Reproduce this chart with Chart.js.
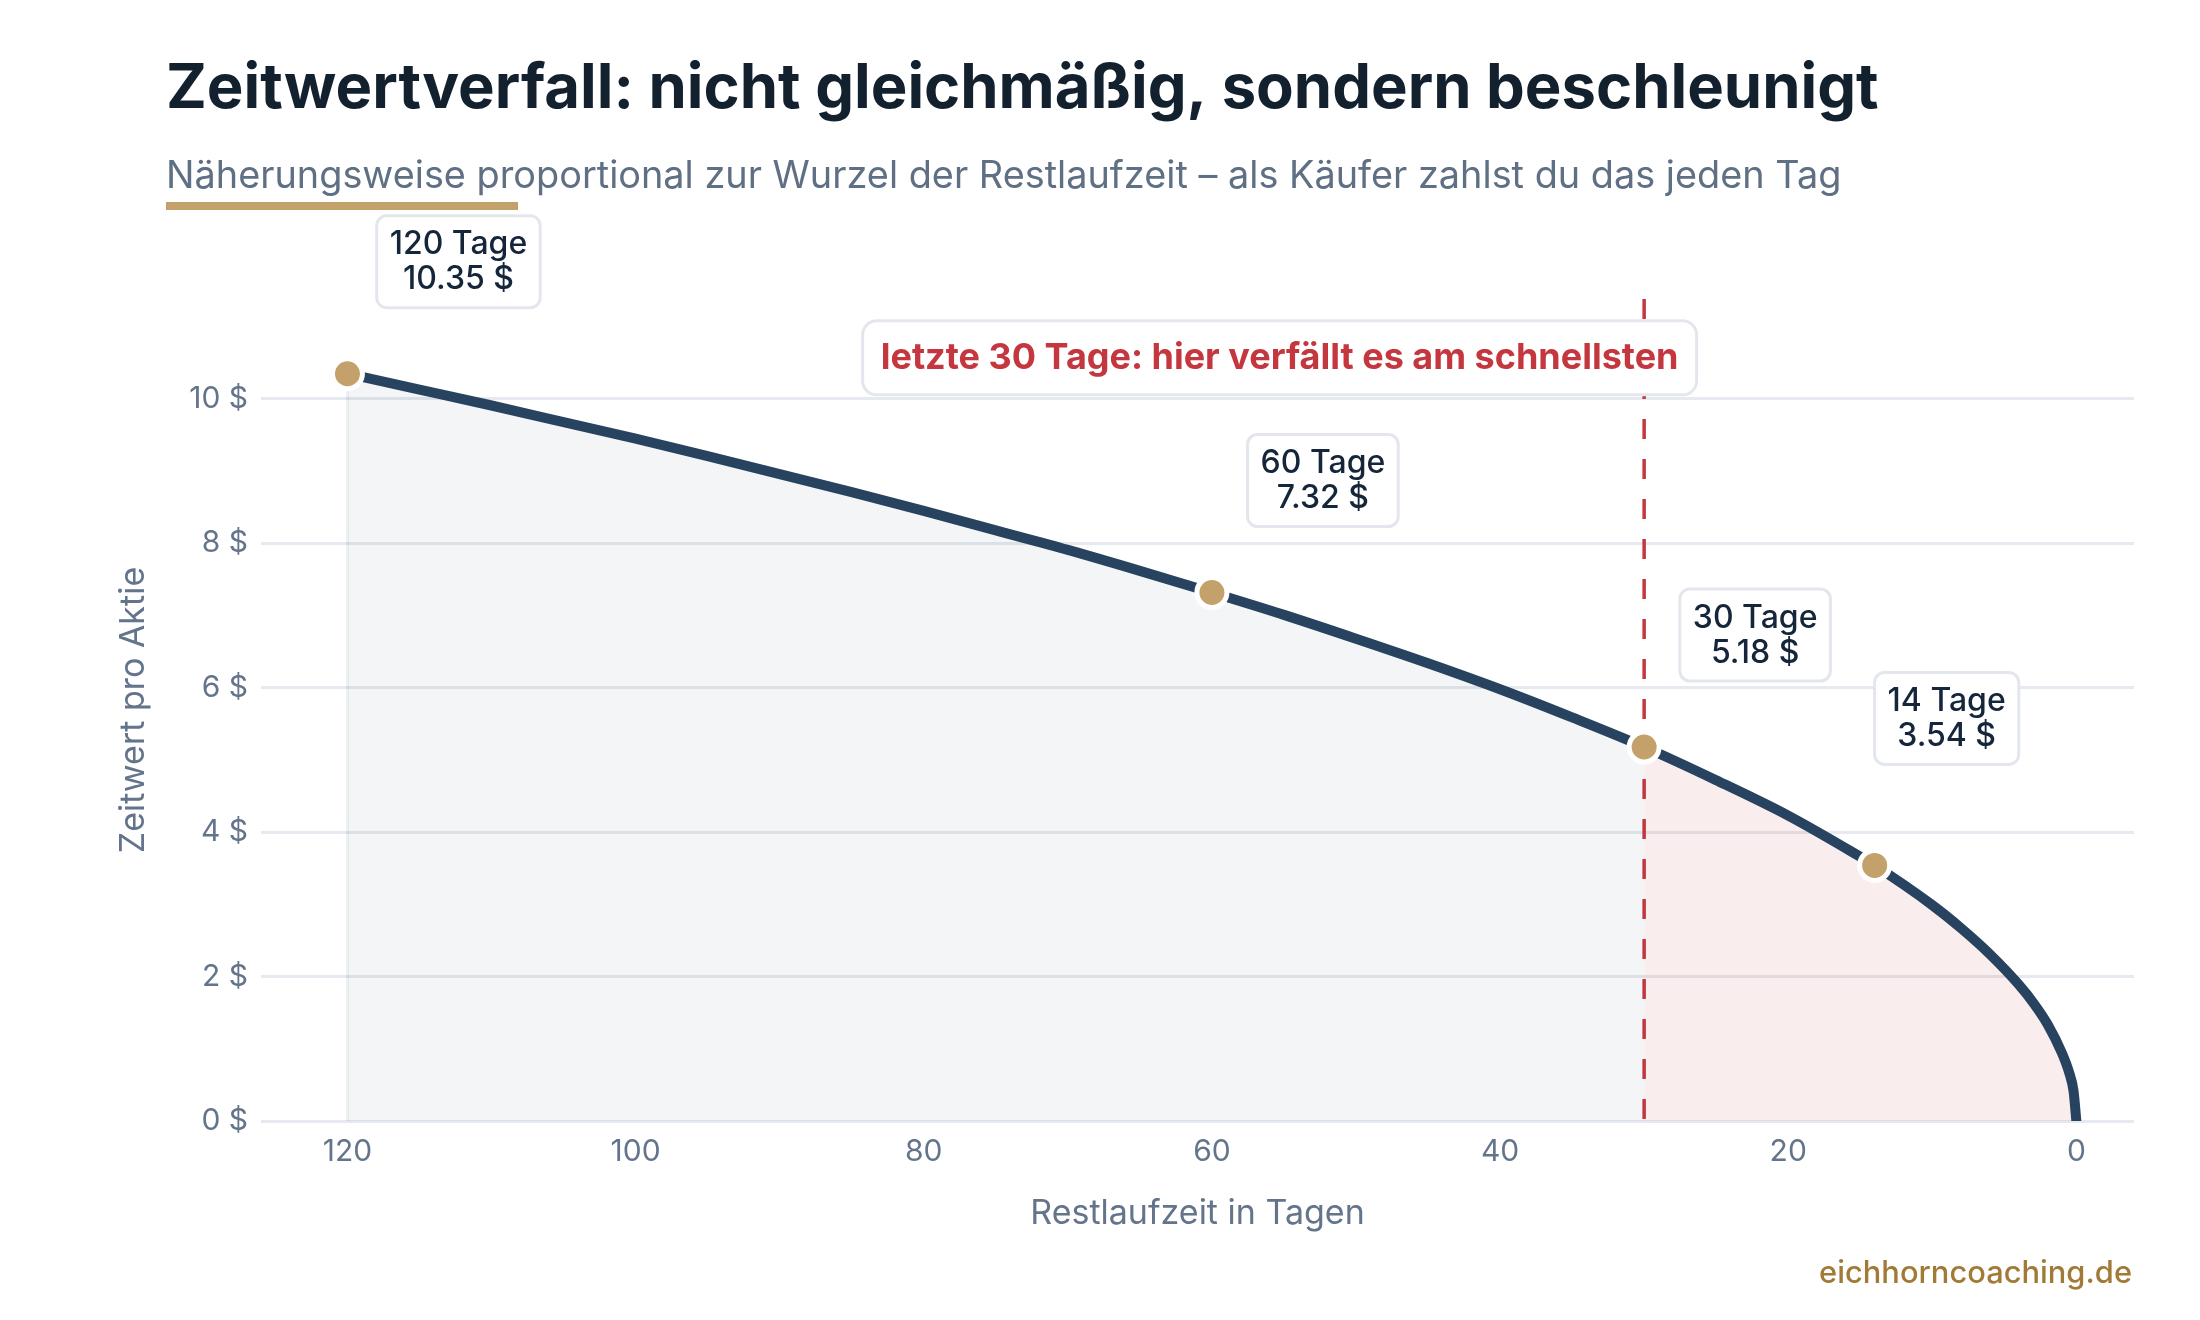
<!DOCTYPE html>
<html lang="de">
<head>
<meta charset="utf-8">
<title>Zeitwertverfall</title>
<script src="https://cdn.jsdelivr.net/npm/chart.js@4.4.1/dist/chart.umd.min.js"></script>
<style>
  body { margin: 0; background: #fff; }
  #zeitwertChart { display: block; }
</style>
</head>
<body>
<canvas id="zeitwertChart" width="2200" height="1320"></canvas>
<script>
// Werte
const tage = [120, 115, 110, 105, 100, 95, 90, 85, 80, 75, 70, 65, 60, 55, 50, 45, 40, 35, 30, 25, 20, 15, 14, 10, 8, 6, 4, 3, 2, 1, 0.5, 0.2, 0];
const zeitwert = [10.35, 10.13, 9.91, 9.68, 9.45, 9.21, 8.96, 8.71, 8.45, 8.18, 7.91, 7.62, 7.32, 7.01, 6.68, 6.34, 5.98, 5.59, 5.18, 4.72, 4.23, 3.66, 3.54, 2.99, 2.67, 2.31, 1.89, 1.64, 1.34, 0.94, 0.67, 0.42, 0];

const markerTage = [120, 60, 30, 14];
const markerWerte = [10.35, 7.32, 5.18, 3.54];

const xTicks = [120, 100, 80, 60, 40, 20, 0];
const yTicks = [0, 2, 4, 6, 8, 10];
const grenzeTag = 30;

const titel = 'Zeitwertverfall: nicht gleichmäßig, sondern beschleunigt';
const untertitel = 'Näherungsweise proportional zur Wurzel der Restlaufzeit – als Käufer zahlst du das jeden Tag';
const hinweis = 'letzte 30 Tage: hier verfällt es am schnellsten';
const quelle = 'eichhorncoaching.de';

// Farben / Stil
const FONT = 'Inter, "Noto Sans", sans-serif';
const navy = '#27435f';
const gold = '#c4a06a';
const rot = '#c5373f';
const grau = '#64748b';
const rahmen = '#e3e7ed';
// Versatz der Beschriftungskästen zum Punkt (Pixel)
const kastenVersatz = [[111, -112], [111, -112], [111, -112], [72, -147]];

const punkte = tage.map((t, i) => ({ x: t, y: zeitwert[i] }));
const punkteAlt = punkte.filter(p => p.x >= grenzeTag);
const punkteNeu = punkte.filter(p => p.x <= grenzeTag);
const markerPunkte = markerTage.map((t, i) => ({ x: t, y: markerWerte[i] }));
const yMax = Math.max(...zeitwert) * 1.1;

function schriftFuer(ctx, text, gewicht, breite) {
  ctx.font = `${gewicht} 100px ${FONT}`;
  return 100 * breite / ctx.measureText(text).width;
}

function kasten(ctx, x, y, w, h, r) {
  ctx.beginPath();
  ctx.roundRect(x, y, w, h, r);
  ctx.fillStyle = '#fff';
  ctx.fill();
  ctx.lineWidth = 3;
  ctx.strokeStyle = rahmen;
  ctx.stroke();
}

const rahmenPlugin = {
  id: 'rahmen',
  beforeDatasetsDraw(chart) {
    const { ctx, chartArea, scales } = chart;
    const xs = scales.x, ys = scales.y;
    ctx.save();
    // feine Kante am linken Ende der Fläche
    const x0 = xs.getPixelForValue(tage[0]);
    ctx.strokeStyle = 'rgba(39,67,95,0.07)';
    ctx.lineWidth = 3;
    ctx.beginPath();
    ctx.moveTo(x0, ys.getPixelForValue(zeitwert[0]));
    ctx.lineTo(x0, ys.getPixelForValue(0));
    ctx.stroke();
    // gestrichelte Grenze bei 30 Tagen
    const xg = xs.getPixelForValue(grenzeTag);
    ctx.strokeStyle = rot;
    ctx.lineWidth = 3.5;
    ctx.setLineDash([20, 20]);
    ctx.beginPath();
    ctx.moveTo(xg, chartArea.top);
    ctx.lineTo(xg, chartArea.bottom);
    ctx.stroke();
    ctx.restore();
  },
  afterDatasetsDraw(chart) {
    const { ctx, scales } = chart;
    const xs = scales.x, ys = scales.y;
    ctx.save();
    ctx.textAlign = 'center';
    ctx.textBaseline = 'middle';
    // Beschriftungen der Marker
    markerTage.forEach((t, i) => {
      const px = xs.getPixelForValue(t) + kastenVersatz[i][0];
      const py = ys.getPixelForValue(markerWerte[i]) + kastenVersatz[i][1];
      const z1 = `${t} Tage`;
      const z2 = `${markerWerte[i].toFixed(2)} $`;
      ctx.font = `500 32px ${FONT}`;
      const w = Math.max(ctx.measureText(z1).width, ctx.measureText(z2).width) + 26;
      const h = 92;
      kasten(ctx, px - w / 2, py - h / 2, w, h, 10);
      ctx.fillStyle = '#15253a';
      ctx.fillText(z1, px, py - 17);
      ctx.fillText(z2, px, py + 18);
    });
    // Hinweis auf die letzten 30 Tage
    const hx = xs.getPixelForValue(55.3);
    const hy = ys.getPixelForValue(10.57);
    const hs = schriftFuer(ctx, hinweis, 700, 798);
    kasten(ctx, hx - 417, hy - 37, 834, 74, 14);
    ctx.font = `700 ${hs}px ${FONT}`;
    ctx.fillStyle = rot;
    ctx.fillText(hinweis, hx, hy);
    ctx.restore();
  },
  afterDraw(chart) {
    const { ctx } = chart;
    ctx.save();
    ctx.textBaseline = 'alphabetic';
    ctx.textAlign = 'left';
    ctx.font = `700 ${schriftFuer(ctx, titel, 700, 1713)}px ${FONT}`;
    ctx.fillStyle = '#13212f';
    ctx.fillText(titel, 166, 108);
    ctx.font = `400 ${schriftFuer(ctx, untertitel, 400, 1676)}px ${FONT}`;
    ctx.fillStyle = '#5f6f84';
    ctx.fillText(untertitel, 166, 188);
    ctx.fillStyle = gold;
    ctx.fillRect(166, 202, 352, 8);
    ctx.textAlign = 'right';
    ctx.font = `500 ${schriftFuer(ctx, quelle, 500, 313)}px ${FONT}`;
    ctx.fillStyle = '#a07a36';
    ctx.fillText(quelle, 2132, 1283);
    ctx.restore();
  }
};

const ctx = document.getElementById('zeitwertChart');
new Chart(ctx, {
  type: 'line',
  data: {
    datasets: [
      {
        label: 'Marker',
        data: markerPunkte,
        showLine: false,
        pointRadius: 15,
        pointBackgroundColor: gold,
        pointBorderColor: '#fff',
        pointBorderWidth: 5,
        order: 0
      },
      {
        label: 'Zeitwert',
        data: punkte,
        borderColor: navy,
        borderWidth: 10,
        borderCapStyle: 'round',
        cubicInterpolationMode: 'monotone',
        pointRadius: 0,
        fill: false,
        order: 1
      },
      {
        label: 'bis 30 Tage',
        data: punkteAlt,
        borderWidth: 0,
        backgroundColor: 'rgba(39,67,95,0.055)',
        cubicInterpolationMode: 'monotone',
        pointRadius: 0,
        fill: 'origin',
        order: 2
      },
      {
        label: 'letzte 30 Tage',
        data: punkteNeu,
        borderWidth: 0,
        backgroundColor: 'rgba(201,54,62,0.09)',
        cubicInterpolationMode: 'monotone',
        pointRadius: 0,
        fill: 'origin',
        order: 3
      }
    ]
  },
  options: {
    responsive: false,
    animation: false,
    devicePixelRatio: 1,
    layout: { padding: { top: 299, right: 66, left: 0, bottom: 0 } },
    plugins: {
      legend: { display: false },
      tooltip: { enabled: false }
    },
    scales: {
      x: {
        type: 'linear',
        reverse: true,
        min: -4,
        max: 126,
        afterBuildTicks: s => { s.ticks = xTicks.map(v => ({ value: v })); },
        afterFit: s => { s.height = 199; },
        grid: { display: false },
        border: { display: false },
        ticks: { padding: 5, color: grau, font: { family: FONT, size: 30 } },
        title: {
          display: true,
          text: 'Restlaufzeit in Tagen',
          color: grau,
          font: { family: FONT, size: 34 },
          padding: { top: 0, bottom: 86 }
        }
      },
      y: {
        min: 0,
        max: yMax,
        afterBuildTicks: s => { s.ticks = yTicks.map(v => ({ value: v })); },
        afterFit: s => { s.width = 261; },
        grid: { color: '#e6e9ef', lineWidth: 3, drawTicks: false },
        border: { display: false },
        ticks: {
          padding: 13,
          color: grau,
          font: { family: FONT, size: 30 },
          callback: v => v + ' $'
        },
        title: {
          display: true,
          text: 'Zeitwert pro Aktie',
          color: grau,
          font: { family: FONT, size: 34 },
          padding: { top: 113, bottom: 0 }
        }
      }
    }
  },
  plugins: [rahmenPlugin]
});
</script>
</body>
</html>
